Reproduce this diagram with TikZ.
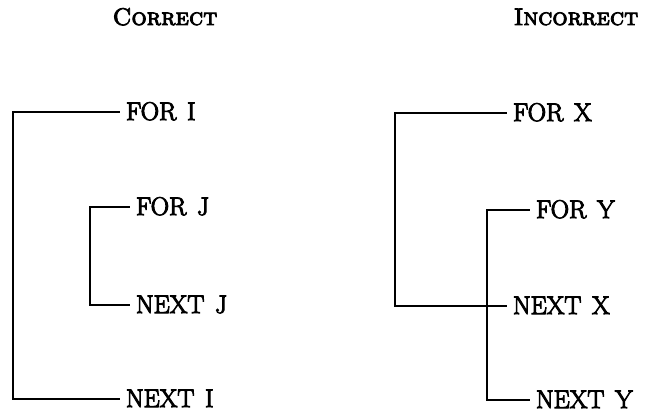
\documentclass[tikz,border=0pt]{standalone}
\usepackage{fontspec}
% a heavier Modern face for the listing text and the headings
\newfontfamily\listfont{Latin Modern Roman}[FakeBold=4]
\newfontfamily\headfont{Latin Modern Roman Caps}[FakeBold=3.5]
\newcommand{\gap}{\hspace{0.42em}}
\begin{document}
\begin{tikzpicture}[x=1pt,y=-1pt,
  stmt/.style={anchor=west,inner xsep=0pt,inner ysep=0pt,outer xsep=7pt,
    text height=16pt,text depth=0pt,font=\fontsize{25.5}{30}\listfont},
  head/.style={anchor=base,inner sep=0pt,font=\fontsize{24}{28}\headfont},
  loopline/.style={line width=1.6pt,line cap=rect,line join=miter}]
\useasboundingbox (0,0) rectangle (645,412);

% column headings
\node[head] (hc) at (165,25) {Correct};
\node[head] (hi) at (576,25) {Incorrect};

% properly nested loops
\node[stmt] (forI)  at (119,112) {FOR\gap I};
\node[stmt] (forJ)  at (129,207) {FOR\gap J};
\node[stmt] (nextJ) at (129,305) {NEXT\gap J};
\node[stmt] (nextI) at (119,399) {NEXT\gap I};
\coordinate (barI) at (13,0);
\coordinate (barJ) at (90,0);
\draw[loopline] (forI.west) -- (forI.west -| barI) |- (nextI.west);
\draw[loopline] (forJ.west) -- (forJ.west -| barJ) |- (nextJ.west);

% crossed loops
\node[stmt] (forX)  at (506,113) {FOR\gap X};
\node[stmt] (forY)  at (529,210) {FOR\gap Y};
\node[stmt] (nextX) at (506,306) {NEXT\gap X};
\node[stmt] (nextY) at (529,400) {NEXT\gap Y};
\coordinate (barX) at (395,0);
\coordinate (barY) at (487,0);
\draw[loopline] (forX.west) -- (forX.west -| barX) |- (nextX.west);
\draw[loopline] (forY.west) -- (forY.west -| barY) |- (nextY.west);
\end{tikzpicture}
\end{document}
